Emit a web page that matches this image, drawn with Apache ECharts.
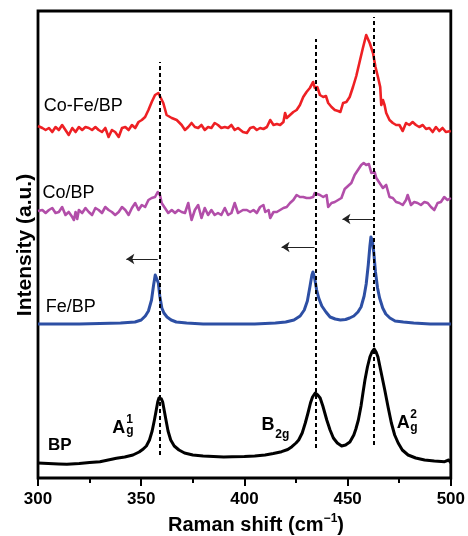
<!DOCTYPE html>
<html><head><meta charset="utf-8">
<script src="https://cdn.jsdelivr.net/npm/echarts@6/dist/echarts.min.js"></script>
<style>html,body{margin:0;padding:0;background:#fff}#c{width:468px;height:536px}</style>
</head><body><div id="c"></div>
<script>
// Raman shift (cm-1) vs intensity (a.u., stacked offsets as in the figure)
const xTicks = [300, 350, 400, 450, 500];

const coFeBP = [[300,352],[300.5,353],[302.1,350],[303.7,348],[305.3,350],[306.9,346],[308.5,351],[310.1,348],[311.7,353],[313.3,348],[314.9,343],[316.6,350],[318.2,346],[319.8,351],[321.4,348],[323.0,351],[324.6,350],[326.2,348],[327.8,351],[329.4,348],[331.0,346],[332.6,350],[334.2,341],[335.8,348],[337.4,346],[339.1,341],[340.7,350],[342.3,351],[343.9,348],[345.5,353],[347.1,350],[348.7,356],[350.3,358],[351.9,361],[353.5,368],[355.1,376],[356.7,383],[358.3,385],[359.1,383],[360.7,375],[362.3,363],[364.8,360],[367.2,358],[369.6,353],[371.2,348],[372.8,351],[374.4,355],[376.0,351],[377.6,350],[379.2,353],[380.8,348],[382.4,351],[384.0,350],[385.6,355],[387.2,353],[388.8,350],[390.5,351],[392.1,350],[393.7,353],[395.3,348],[396.9,350],[399.3,346],
[401.2,345],[402.8,350],[404.4,351],[406.0,348],[407.6,350],[409.2,349],[410.9,351],[412.5,358],[414.1,353],[415.7,354],[417.3,353],[418.9,356],[419.7,365],[420.5,360],[422.1,363],[423.7,366],[425.3,368],[426.9,373],[428.5,381],[430.1,386],[431.7,390],[432.5,393],[433.3,396],[434.1,390],[435.3,391],[436.6,383],[438.2,381],[439.5,382],[440.6,375],[442.2,371],[443.8,368],[445.4,367],[446.5,366],[447.8,375],[449.4,376],[451.0,381],[452.6,391],[454.2,402],[455.0,403],[455.8,416],[457.4,430],[459.0,443],[460.7,435],[462.3,425],[463.5,411],[464.7,401],[465.8,391],[466.3,373],[467.1,378],[467.9,373],[468.7,365],[470.3,358],[471.9,355],[473.5,353],[475.1,353],[476.7,347],[478.3,355],[479.9,353],[481.5,356],[483.1,353],[484.7,351],[486.4,353],[488.0,349],[489.6,350],[491.2,346],[492.8,351],[494.4,347],[496.0,350],[497.6,346],[500,347]];

const coBP = [[300,267],[300.5,266],[302.1,268],[303.7,265],[305.3,268],[306.9,270],[308.5,265],[310.1,266],[311.7,271],[313.3,263],[314.9,266],[316.6,261],[317.4,258],[318.2,266],[319.0,259],[319.8,268],[321.4,265],[323.0,270],[324.6,266],[326.2,263],[327.8,270],[329.4,268],[331.0,265],[332.6,271],[334.2,268],[335.8,266],[337.4,263],[339.1,266],[340.7,271],[342.3,268],[343.9,263],[345.5,270],[347.1,275],[348.7,268],[350.3,273],[351.9,271],[353.5,278],[355.1,280],[356.7,281],[358.0,286],[359.1,283],[359.9,275],[361.5,270],[363.1,265],[364.8,268],[366.4,265],[368.0,268],[369.6,266],[371.2,265],[372.8,275],[373.6,266],[374.4,258],[376.0,268],[377.6,273],[379.2,260],[380.8,270],[382.4,263],[384.0,268],[385.6,263],[387.2,265],[388.8,263],[390.5,270],[392.1,263],[393.7,265],[395.3,275],[396.9,265],[399.3,268],
[399.6,270],[401.2,268],[402.8,266],[404.4,268],[406.0,265],[407.6,271],[408.4,270],[409.2,273],[410.1,266],[411.7,268],[412.5,260],[414.1,266],[415.7,266],[417.3,268],[418.9,270],[420.5,271],[422.1,275],[423.7,278],[425.3,283],[426.9,281],[428.5,281],[430.1,280],[431.7,280],[433.3,281],[434.1,285],[434.9,286],[436.6,283],[438.2,281],[439.8,283],[440.6,271],[442.2,275],[443.8,276],[445.4,278],[447.0,280],[447.8,280],[448.6,289],[450.2,292],[451.8,295],[453.4,303],[455.0,308],[456.6,313],[457.8,315],[459.0,313],[460.3,314],[461.5,305],[462.3,303],[463.1,306],[463.9,300],[465.5,295],[467.1,290],[468.7,293],[470.3,281],[471.9,280],[473.5,276],[475.1,275],[476.7,273],[478.3,278],[479.1,283],[480.7,273],[482.3,276],[483.9,275],[485.5,273],[487.2,276],[488.8,275],[490.4,271],[492.0,268],[493.6,275],[495.2,276],[496.8,281],[498.4,278],[500,280]];

const feBP = [[300,154],[320,154],[340,155],[347,156],[350,158],[352,162],[353.5,167],[355,178],[356,193],[356.8,203],[357.6,204],[358.3,195],[359,182],[360,170],[361,165],[362.5,161],[364.5,158],[367,156],[372,155],[380,154],[395,154],[405,154],[415,155],[420,156],[424,158],[427,162],[429,168],[430.5,177],[431.8,192],[432.7,203],[433.2,206],[434,200],[435,188],[436,180],[437.5,172],[439.5,166],[441.5,161],[444,159],[446.5,158],[449,158.5],[451,160],[453,162],[455,166],[456.5,171],[458,182],[459,194],[460,213],[460.8,232],[461.3,241],[462,237],[462.7,225],[463.5,206],[464.5,190],[465.5,180],[467,170],[468.5,164],[470.5,160],[473,157],[477,156],[482,155],[490,154],[500,154]];

const bp = [[300,15],[305,14.5],[310,14],[314,13.7],[320,14.5],[325,15.5],[330,16.3],[334,18],[338,19.7],[342,21],[346,23],[349,26],[351,29],[352.5,32],[354,38],[355.3,47],[356.4,58],[357.3,68],[358,76],[358.6,80],[359.1,81],[359.8,79],[360.4,76],[361.2,67],[362,58],[363,47],[364.3,38],[366,32],[368.3,28],[371,25],[375,23],[380,22],[385,21.5],[390,21],[394,21.3],[400,21.5],[405,22],[410,23],[414,24.5],[418,26.3],[421,28.5],[423,31.3],[425,35],[426.3,38],[428,45],[429.5,55],[430.8,65],[432,75],[433,81],[434.3,85],[435.5,83],[436.7,80],[438,72],[439.9,58],[441.5,48],[443.1,40],[445,35],[447.1,32],[449,33],[451.1,36],[453,43],[454,49],[455.2,58],[456.5,72],[457.5,86],[458.4,98],[459.6,111],[460.8,121],[461.8,126],[462.9,129],[463.8,126],[464.7,121],[466,108],[467,98],[468,88],[469.6,71],[471.2,55],[472.8,43],[474.5,35],[476.5,28],[479.3,23],[483,20],[487.3,18],[492,17],[497,16.3],[499,18],[500,15]];

// dashed guides: [x, yFrom, yTo]
const guides = [[359.2, 23, 416], [434.6, 30, 439], [462.9, 33, 461]];
// shift arrows: [xFrom, xTo, y]
const arrows = [[358.0, 342.8, 219], [434.0, 418.0, 231], [462.4, 447.5, 259]];

const seriesNames = ['Co-Fe/BP', 'Co/BP', 'Fe/BP', 'BP'];
const modeNames = ['A', 'B', 'A'];

const FONT = 'Liberation Sans, Arial, Helvetica, sans-serif';
const chart = echarts.init(document.getElementById('c'), null, {renderer: 'canvas'});

function ls(name, data, color, width, z, extra) {
  return Object.assign({
    name, type: 'line', data, symbol: 'none', showSymbol: false, silent: true,
    lineStyle: {color, width, join: 'round'}, itemStyle: {color}, z, animation: false
  }, extra || {});
}

chart.setOption({
  animation: false,
  backgroundColor: '#fff',
  grid: {left: 38, right: 15, top: 11, bottom: 58, show: true, borderColor: '#000', borderWidth: 2.8, containLabel: false},
  xAxis: {
    type: 'value', min: 300, max: 500, interval: 50,
    axisLine: {show: false},
    axisTick: {show: true, length: 8, lineStyle: {color: '#000', width: 2}},
    minorTick: {show: true, splitNumber: 2, length: 5, lineStyle: {color: '#000', width: 2}},
    splitLine: {show: false}, minorSplitLine: {show: false},
    axisLabel: {margin: 13, color: '#000', fontSize: 17, fontWeight: 'bold', fontFamily: FONT,
      formatter: v => xTicks.includes(v) ? String(v) : ''}
  },
  yAxis: {
    type: 'value', min: 0, max: 467,
    axisLine: {show: false}, axisTick: {show: false}, axisLabel: {show: false}, splitLine: {show: false}
  },
  series: [
    ls(seriesNames[0], coFeBP, '#ee2024', 2.6, 2),
    ls(seriesNames[1], coBP, '#b24ea9', 2.6, 2),
    ls(seriesNames[2], feBP, '#2d4fa4', 3, 2, {
      markLine: {
        silent: true, animation: false, symbol: ['none', 'arrow'], symbolSize: 8, label: {show: false},
        lineStyle: {color: '#222', width: 1, type: 'solid'},
        emphasis: {disabled: true},
        data: arrows.map(a => [{coord: [a[0], a[2]]}, {coord: [a[1], a[2]]}])
      }
    }),
    ls(seriesNames[3], bp, '#000', 3, 4, {
      markLine: {
        silent: true, animation: false, symbol: ['none', 'none'], label: {show: false},
        lineStyle: {color: '#000', width: 2, type: [4, 3]},
        emphasis: {disabled: true},
        data: guides.map(g => [{coord: [g[0], g[1]]}, {coord: [g[0], g[2]]}])
      }
    })
  ]
});

// annotation anchors in data units
const nameAnchors = [[302.8, 372], [302.2, 285], [303.7, 170.5], [304.8, 32.7]];
const modeAnchors = [
  {main: [336.0, 49.7], sup: [342.8, 58.5], sub: [342.8, 47.5], supText: '1', subText: 'g'},
  {main: [408.3, 52.5], sup: null, sub: [415.0, 43.0], supText: '', subText: '2g'},
  {main: [473.8, 54.5], sup: [480.4, 63.5], sub: [480.4, 50], supText: '2', subText: 'g'}
];

function px(p) { return chart.convertToPixel({xAxisIndex: 0, yAxisIndex: 0}, p); }
function txt(text, p, size, weight, extra) {
  const q = px(p);
  return Object.assign({type: 'text', x: q[0], y: q[1], silent: true, z: 10,
    style: {text, fontSize: size, fontWeight: weight, fontFamily: FONT, fill: '#000', align: 'left', verticalAlign: 'middle'}}, extra || {});
}

const g = [];
nameAnchors.forEach((a, i) => g.push(txt(seriesNames[i], a, i === 3 ? 17 : 18, i === 3 ? 'bold' : 'normal')));
modeAnchors.forEach((m, i) => {
  g.push(txt(modeNames[i], m.main, 18, 'bold'));
  if (m.sup) g.push(txt(m.supText, m.sup, 12, 'bold'));
  if (m.sub) g.push(txt(m.subText, m.sub, 12, 'bold'));
});
// axis titles
g.push({type: 'text', x: 25, y: 245, rotation: Math.PI / 2, silent: true,
  style: {text: 'Intensity (a.u.)', fontSize: 21, fontWeight: 'bold', fontFamily: FONT, fill: '#000', align: 'center', verticalAlign: 'middle'}});
g.push({type: 'text', x: 256, y: 525, silent: true,
  style: {text: '{a|Raman shift (cm}{s|\u22121}{a|)}', align: 'center', verticalAlign: 'middle', fill: '#000',
    rich: {a: {fontSize: 20, fontWeight: 'bold', fontFamily: FONT, lineHeight: 24, fill: '#000'},
           s: {fontSize: 12, fontWeight: 'bold', fontFamily: FONT, lineHeight: 14, verticalAlign: 'top', fill: '#000'}}}});
chart.setOption({graphic: g});
</script>
</body></html>
